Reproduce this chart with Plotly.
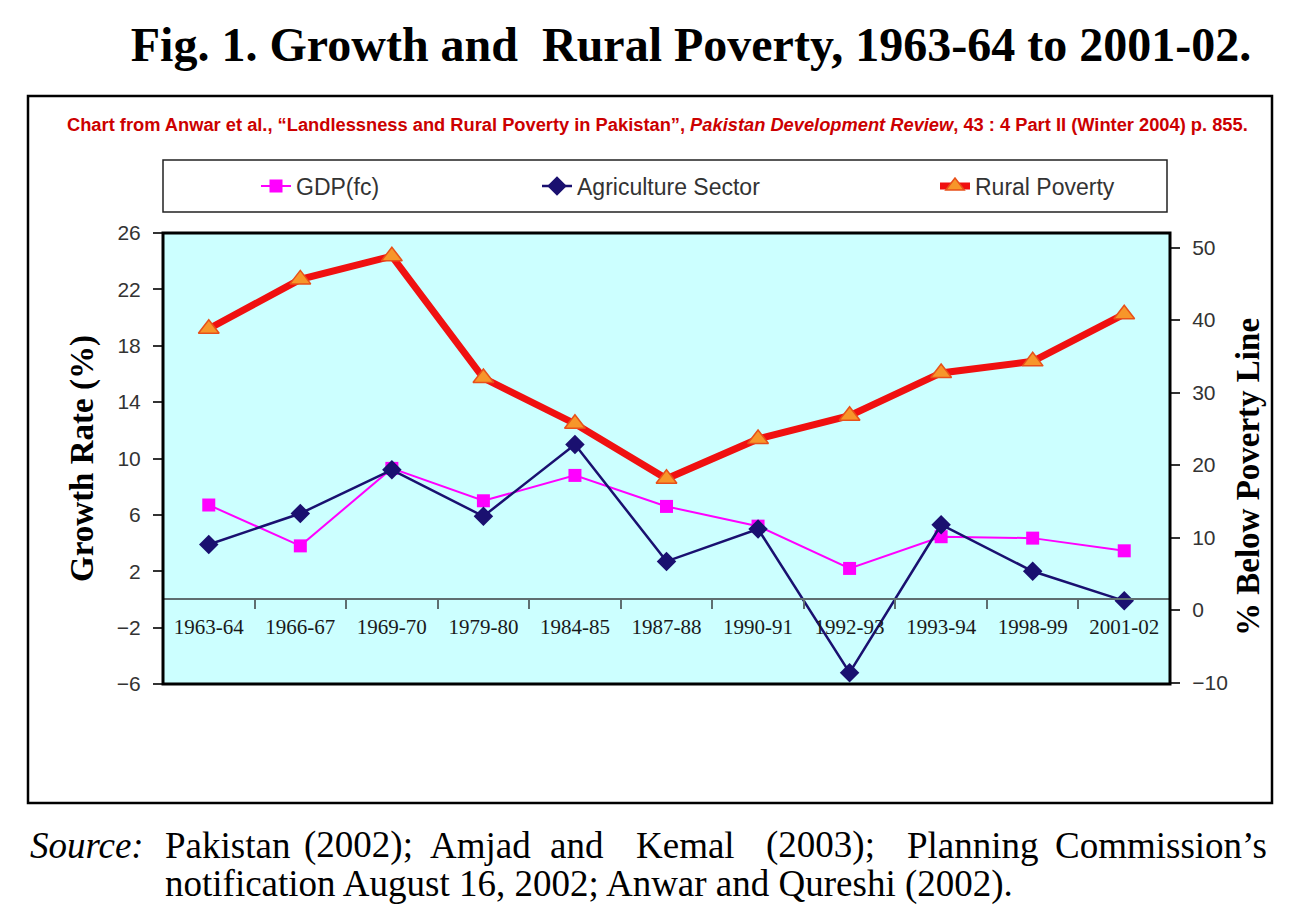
import plotly.graph_objects as go

# ---- data ----
periods = ["1963-64", "1966-67", "1969-70", "1979-80", "1984-85", "1987-88",
           "1990-91", "1992-93", "1993-94", "1998-99", "2001-02"]
gdp_fc = [6.7, 3.8, 9.3, 7.0, 8.8, 6.6, 5.2, 2.2, 4.45, 4.35, 3.45]
agriculture = [3.9, 6.1, 9.2, 5.9, 11.0, 2.7, 5.0, -5.2, 5.3, 2.0, -0.1]
rural_poverty = [38.8, 45.6, 48.8, 32.0, 25.7, 18.1, 23.6, 26.8, 32.7, 34.3, 40.8]
left_ticks = [26, 22, 18, 14, 10, 6, 2, -2, -6]
right_ticks = [50, 40, 30, 20, 10, 0, -10]

# ---- geometry helpers (target pixel -> paper) ----
OFF = 8                      # page body margin
W, H = 1290 - OFF, 915 - OFF
PL, PR, PT, PB = 163, 1170, 233, 684
def px(x):
    return (x - PL) / (PR - PL)
def py(y):
    return (PB - y) / (PB - PT)

fig = go.Figure()

fig.add_trace(go.Scatter(
    x=periods, y=gdp_fc, name="GDP(fc)", mode="lines+markers",
    line=dict(color="#FF00FF", width=2),
    marker=dict(symbol="square", size=13, color="#FF00FF"),
    legend="legend"))
fig.add_trace(go.Scatter(
    x=periods, y=agriculture, name="Agriculture Sector", mode="lines+markers",
    line=dict(color="#1A1070", width=2.5),
    marker=dict(symbol="diamond", size=15, color="#1A1070"),
    legend="legend2"))
fig.add_trace(go.Scatter(
    x=periods, y=rural_poverty, name="Rural Poverty", mode="lines+markers",
    yaxis="y2",
    line=dict(color="#F01010", width=7),
    marker=dict(symbol="triangle-up", size=18, color="#F7962A",
                line=dict(color="#E8501A", width=1.5)),
    legend="legend3"))

serif = "Liberation Serif, Times New Roman, serif"
sans = "Liberation Sans, Arial, sans-serif"

fig.update_layout(
    width=W, height=H,
    margin=dict(l=PL - OFF, r=1290 - PR, t=PT - OFF, b=915 - PB),
    paper_bgcolor="white",
    plot_bgcolor="#CCFFFF",
    title=dict(text="Fig. 1. Growth and \u00a0Rural Poverty, 1963-64 to 2001-02.",
               font=dict(family=serif, size=48, color="black", weight="bold"),
               x=(691 - OFF) / W, xanchor="center",
               y=1 - (44 - OFF) / H, yanchor="middle"),
    xaxis=dict(
        type="category", range=[-0.5, 10.5],
        anchor="free", position=6 / 32,
        showline=True, linecolor="#5E6E70", linewidth=1.5,
        ticks="outside", tickson="boundaries", ticklen=9, tickcolor="#5E6E70",
        tickwidth=1.5, ticklabelstandoff=9,
        tickfont=dict(family=serif, size=21, color="#1A1A1A"),
        showgrid=False, zeroline=False,
    ),
    yaxis=dict(
        range=[-6, 26], tickvals=left_ticks,
        ticktext=[str(v).replace("-", "\u2212") for v in left_ticks],
        ticks="outside", ticklen=9, tickcolor="#333333", tickwidth=1.5,
        ticklabelstandoff=8,
        tickfont=dict(family=sans, size=21, color="#333333"),
        showgrid=False, zeroline=False, showline=False,
        title=dict(text="Growth Rate (%)", standoff=13,
                   font=dict(family=serif, size=33, color="black", weight="bold")),
    ),
    yaxis2=dict(
        range=[-10.2, 52.0], tickvals=right_ticks,
        ticktext=[str(v).replace("-", "\u2212") for v in right_ticks],
        overlaying="y", side="right",
        ticks="outside", ticklen=9, tickcolor="#333333", tickwidth=1.5,
        ticklabelstandoff=8,
        tickfont=dict(family=sans, size=21, color="#333333"),
        showgrid=False, zeroline=False, showline=False,
    ),
    showlegend=True,
)

leg_common = dict(orientation="h", yanchor="middle", xanchor="left",
                  bgcolor="rgba(0,0,0,0)", borderwidth=0,
                  font=dict(family=sans, size=23, color="#333333"),
                  itemwidth=30)
fig.update_layout(
    legend=dict(x=px(256), y=py(186), **leg_common),
    legend2=dict(x=px(537), y=py(186), **leg_common),
    legend3=dict(x=px(935), y=py(186), **leg_common),
)

shapes = [
    # outer frame
    dict(type="rect", xref="paper", yref="paper",
         x0=px(28), x1=px(1272), y0=py(803), y1=py(96),
         line=dict(color="black", width=2.5), layer="below"),
    # legend box
    dict(type="rect", xref="paper", yref="paper",
         x0=px(163), x1=px(1167), y0=py(212), y1=py(160),
         line=dict(color="#222222", width=1.5)),
    # plot frame
    dict(type="rect", xref="paper", yref="paper",
         x0=0, x1=1, y0=0, y1=1,
         line=dict(color="black", width=3)),
]
fig.update_layout(shapes=shapes)

annotations = [
    dict(text="Chart from Anwar et al., \u201cLandlessness and Rural Poverty in Pakistan\u201d, "
              "<i>Pakistan Development Review</i>, 43 : 4 Part II (Winter 2004) p. 855.",
         xref="paper", yref="paper", x=px(657), y=py(125),
         xanchor="center", yanchor="middle", showarrow=False,
         font=dict(family=sans, size=18.3, color="#CC0000", weight="bold")),
    # right axis title
    dict(text="% Below Poverty Line", textangle=-90,
         xref="paper", yref="paper", x=px(1248), y=py(477),
         xanchor="center", yanchor="middle", showarrow=False,
         font=dict(family=serif, size=33, color="black", weight="bold")),
]
# source line 1 (justified: word groups placed individually)
src_words = [("<i>Source:</i>", 28), ("Pakistan", 163), ("(2002);", 302),
             ("Amjad", 428), ("and", 548), ("Kemal", 634), ("(2003);", 764),
             ("Planning", 905), ("Commission\u2019s", 1053)]
for w, xpos in src_words:
    annotations.append(dict(text=w, xref="paper", yref="paper", x=px(xpos), y=py(845),
                            xanchor="left", yanchor="middle", showarrow=False,
                            font=dict(family=serif, size=37, color="black")))
annotations.append(dict(text="notification August 16, 2002; Anwar and Qureshi (2002).",
                        xref="paper", yref="paper", x=px(163), y=py(884),
                        xanchor="left", yanchor="middle", showarrow=False,
                        font=dict(family=serif, size=37, color="black")))
fig.update_layout(annotations=annotations)

fig.write_html("out.html")
